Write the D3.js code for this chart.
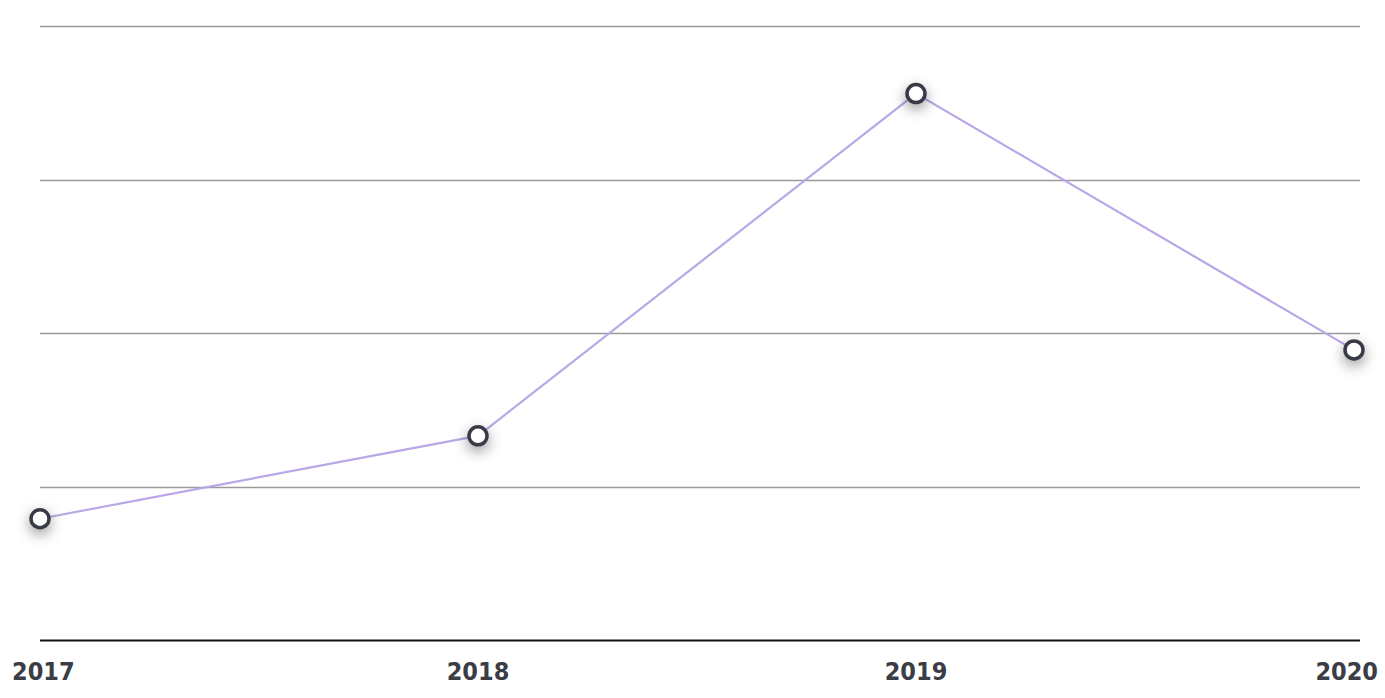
<!DOCTYPE html>
<html>
<head>
<meta charset="utf-8">
<script src="https://cdn.jsdelivr.net/npm/d3@7"></script>
<style>
html,body{margin:0;padding:0;background:#fff;}
svg{display:block;}
</style>
</head>
<body>
<svg id="chart" width="1385" height="698"></svg>
<script>
const years = ["2017", "2018", "2019", "2020"];
const values = [0.79, 1.33, 3.56, 1.89];
const gridTicks = [1, 2, 3, 4];

const W = 1385, H = 698;
const svg = d3.select("#chart");

const x = d3.scalePoint().domain(years).range([40, 1354]);
const y = d3.scaleLinear().domain([0, 4]).range([640, 26]);

const defs = svg.append("defs");
const f = defs.append("filter").attr("id", "shadow")
  .attr("x", "-200%").attr("y", "-200%").attr("width", "500%").attr("height", "500%");
f.append("feDropShadow").attr("dx", 0).attr("dy", 5).attr("stdDeviation", 7)
  .attr("flood-color", "#000").attr("flood-opacity", 0.4);

// grid lines
svg.append("g").selectAll("line").data(gridTicks).join("line")
  .attr("x1", 40).attr("x2", 1360)
  .attr("y1", d => Math.round(y(d)) + 0.5).attr("y2", d => Math.round(y(d)) + 0.5)
  .attr("stroke", "#9a9a9a").attr("stroke-width", 1.3);

// baseline
svg.append("line")
  .attr("x1", 40).attr("x2", 1360)
  .attr("y1", y(0) + 0.5).attr("y2", y(0) + 0.5)
  .attr("stroke", "#111").attr("stroke-width", 2);

// labels
const labels = svg.append("g").selectAll("text").data(years).join("text")
  .attr("y", 680)
  .attr("font-family", "'DejaVu Sans Condensed', 'DejaVu Sans', sans-serif")
  .attr("font-stretch", "condensed")
  .attr("font-weight", "bold")
  .attr("font-size", 25)
  .attr("fill", "#3a3d45")
  .attr("text-anchor", "middle")
  .text(d => d);
labels.each(function(d) {
  const w = this.getComputedTextLength();
  let cx = x(d);
  cx = Math.max(cx, 12 + w / 2);
  cx = Math.min(cx, 1378 - w / 2);
  d3.select(this).attr("x", cx);
});

// line
const data = years.map((yr, i) => ({yr, v: values[i]}));
svg.append("path").datum(data)
  .attr("fill", "none")
  .attr("stroke", "#baa7e7")
  .attr("stroke-width", 2.2)
  .attr("d", d3.line().x(d => x(d.yr)).y(d => y(d.v)));

// points
svg.append("g").selectAll("circle").data(data).join("circle")
  .attr("cx", d => x(d.yr)).attr("cy", d => y(d.v))
  .attr("r", 9)
  .attr("fill", "#fff")
  .attr("stroke", "#383b44")
  .attr("stroke-width", 3.5)
  .attr("filter", "url(#shadow)");
</script>
</body>
</html>
